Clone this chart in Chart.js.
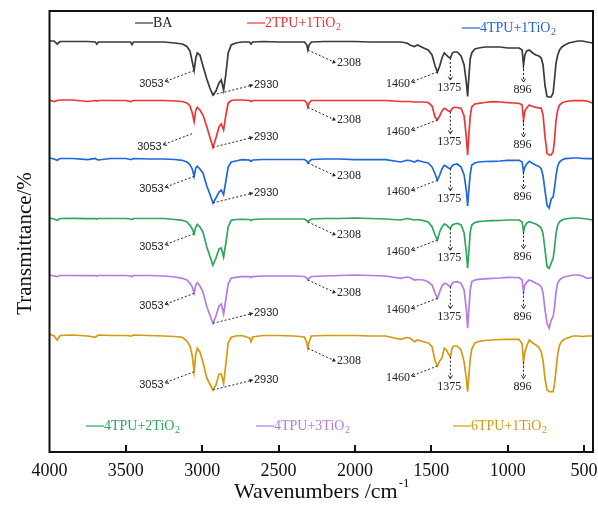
<!DOCTYPE html>
<html>
<head>
<meta charset="utf-8">
<title>FTIR spectra</title>
<script src="https://cdn.jsdelivr.net/npm/chart.js@4.4.0/dist/chart.umd.min.js"></script>
<style>
  html, body { margin: 0; padding: 0; background: #fff; }
</style>
</head>
<body>
<canvas id="ftir" width="598" height="510"></canvas>
<script>
// shared wavenumber grid (cm-1), denser around the bands
const wavenumbers = [
  4000, 3970, 3950, 3930, 3850, 3750, 3700, 3690, 3680, 3600,
  3500, 3470, 3460, 3450, 3350, 3250, 3180, 3130, 3100, 3080,
  3065, 3053, 3042, 3032, 3015, 2995, 2970, 2950, 2930, 2910,
  2890, 2875, 2860, 2845, 2830, 2810, 2780, 2740, 2690, 2680,
  2670, 2600, 2500, 2400, 2330, 2315, 2308, 2300, 2285, 2200,
  2100, 2000, 1900, 1800, 1700, 1660, 1640, 1610, 1590, 1550,
  1520, 1495, 1475, 1460, 1445, 1430, 1415, 1400, 1388, 1375,
  1362, 1350, 1330, 1305, 1285, 1270, 1262, 1254, 1245, 1235,
  1215, 1190, 1150, 1100, 1050, 1000, 960, 925, 905, 896,
  887, 875, 858, 835, 815, 795, 780, 768, 755, 742,
  728, 715, 702, 693, 683, 672, 660, 645, 625, 600,
  570, 540, 510, 480, 441
];

// transmittance drop below each sample's own baseline
const dropBA = [
  0, 0, 3, 0.5, 0.5, 0.5, 1, 3, 1, 1,
  1, 1, 3.5, 1, 1, 1, 2, 3, 5.5, 10,
  21, 29.5, 17, 12, 14, 25, 38, 47, 54, 50,
  42, 39, 49, 33, 12, 4, 2, 1, 1, 3,
  1, 0.5, 1, 1, 1, 4, 9, 4, 1, 0.5,
  0.5, 0.5, 1, 1, 1, 2, 4, 5.5, 4, 7,
  9, 14, 25, 31, 25, 17, 12, 14, 16, 17,
  12, 11, 11, 15, 24, 42, 55.5, 36, 18, 12,
  8, 7, 6, 6, 6, 7, 7, 7, 9, 24,
  14, 10, 9, 12, 14, 15, 17, 24, 45, 55.5,
  56, 56, 52, 38, 22, 14, 9, 6, 4, 2,
  1, 0, 0, 1, 2
];
const drop2TPU1Ti = [
  0, 1.5, 0.5, 0, 0, 1.5, 0.5, 1, 0.5, 0.5,
  0.5, 1.5, 1, 0.5, 0.5, 0.5, 1, 1.5, 3, 6,
  13, 21.7, 10, 7.3, 10, 15, 26.5, 37, 47.3, 38,
  27, 24, 30, 15, 3, 0.5, 0, 0, 0.5, 1.5,
  0.5, 0.5, 0.5, 0.5, 0.5, 3, 7.3, 3, 0.5, 0.5,
  0.5, 0.5, 0.5, 0.5, 1.5, 1.5, 1.5, 2, 2, 2,
  2.5, 6, 17, 20, 16, 11, 8.3, 9.5, 11, 11.7,
  8.3, 7.3, 7.5, 8.3, 16, 38, 55, 35, 16, 7,
  4, 3.3, 2.5, 1.7, 2, 2.7, 3, 3.3, 5, 20,
  11, 8, 5, 6.5, 7.3, 7.8, 8.3, 15, 37, 53.3,
  55, 55, 51.7, 40, 20, 10, 5, 3, 1.7, 1,
  0.7, 0.7, 0.7, 1, 3.3
];
const drop4TPU1Ti = [
  0, 1, 2.3, 0.5, 0.5, 1.7, 0.5, 1.5, 2, 0.5,
  0.5, 1.5, 1.5, 0.5, 1, 1, 1.5, 2.3, 4, 6.7,
  11, 18.3, 10, 8.3, 11, 15, 28, 36, 45, 40,
  34, 32, 36.7, 23, 9, 4, 3, 1.7, 2, 3.3,
  2, 1.5, 1.5, 1.5, 1.5, 3, 5, 3.5, 1.5, 1,
  1, 1.7, 1.5, 1.7, 4, 2.3, 2.5, 4, 2.5, 4,
  5, 9, 16, 22.3, 17, 11, 7.3, 8.5, 10, 10.7,
  7.5, 6.5, 6, 9, 17, 33, 48, 32, 16, 7,
  5, 4, 3.5, 3.3, 3, 2.3, 2.3, 2.3, 4, 14,
  9, 6, 3.3, 5.5, 7.3, 8.5, 10.7, 18, 33, 47.3,
  50, 41, 39, 30, 17.3, 8, 4, 2, 0.7, 0.3,
  0, 0, 0.5, 0.7, 0.7
];
const drop4TPU2Ti = [
  0, 1, 2.3, 0.5, 0.3, 0.7, 0.5, 1, 0.5, 0.5,
  0.5, 1, 1.5, 0.5, 0.5, 0.5, 1.5, 2.3, 4, 7.3,
  11, 15.7, 9, 6.3, 9, 14, 29, 38, 47.3, 40,
  31, 30, 39, 25, 9, 2.3, 1.5, 1.3, 1.5, 2.5,
  1.5, 1, 1, 1, 1, 2.5, 4, 2.5, 1, 0.5,
  0.5, 0, 0.5, 1, 2, 0.5, 1, 2, 1.5, 2.7,
  4, 8.7, 17, 22, 14, 9, 6, 7, 9, 10.3,
  7, 6, 5.3, 7, 15, 35, 50.3, 34, 14, 7,
  4.5, 3.7, 3, 2.7, 2.5, 2, 2, 2, 4, 13.7,
  8, 5, 3.7, 5, 6, 8, 10.3, 16, 32, 48.7,
  50.3, 45.3, 40.3, 30, 15.3, 7, 3.7, 2, 1, 0.5,
  0, 0, 0.5, 1, 2
];
const drop4TPU3Ti = [
  0, 1, 1.7, 0.5, 0.5, 0.7, 0.5, 1, 0.5, 0.5,
  0.5, 1, 1.7, 0.5, 0.5, 1, 2, 3.3, 5, 8.3,
  12, 18.3, 10, 7.7, 11, 16.7, 31.7, 40, 48.3, 41,
  31, 29, 39, 24, 9, 3, 2.3, 1.7, 1.7, 2.5,
  1.7, 1, 1, 1, 1.5, 3, 5, 3, 1.5, 1,
  0.5, 0, 0.5, 1, 3.3, 2, 2.5, 5, 4.5, 5,
  7, 10, 18, 23.3, 17, 11, 8.3, 8.7, 10.5, 11.7,
  8, 7, 6.7, 8.3, 15, 35, 53.3, 35, 15, 6.7,
  5, 4.3, 3.8, 3.3, 3, 2.3, 2.5, 2.5, 5, 16.7,
  10, 7, 5, 6.5, 8.3, 9.5, 11.7, 18, 35, 48.3,
  53.3, 45, 41.7, 32, 16.7, 8, 5, 3, 1.7, 1,
  0, 0, 1, 3.3, 2.5
];
const drop6TPU1Ti = [
  0, 2, 6, 1.5, 1, 2, 3.3, 2, 1, 1.5,
  1.5, 2, 2, 1, 1.5, 2, 2.5, 3.3, 7, 12,
  22, 37.7, 20, 14.3, 18, 28, 44, 50, 56, 51,
  40, 40, 49.3, 30, 9, 3.3, 2, 1.5, 4, 7.7,
  3, 1.5, 1.5, 2, 3, 9, 14.3, 8, 2, 1.5,
  1.5, 1.5, 2, 2, 5.3, 3.5, 4, 7.7, 6, 7.7,
  9, 12.7, 27, 32, 27, 24, 14.3, 16, 20, 22.7,
  13.3, 12, 12, 16, 28, 45, 57.7, 42, 25, 15,
  9, 7.5, 6.5, 6, 5.5, 5.3, 5.3, 5.3, 10, 27.7,
  18, 12, 6, 9, 11, 13.5, 17.7, 27, 45, 56,
  57.7, 57.7, 57.7, 50, 36, 20, 11, 7, 5, 3.5,
  2, 2, 2.5, 2, 2
];

const sampleNames = ['BA', '2TPU+1TiO2', '4TPU+1TiO2', '4TPU+2TiO2', '4TPU+3TiO2', '6TPU+1TiO2'];
const sampleDrops = [dropBA, drop2TPU1Ti, drop4TPU1Ti, drop4TPU2Ti, drop4TPU3Ti, drop6TPU1Ti];
// vertical stacking offsets of the spectra
const stackShift = [0, -59, -117, -177, -234, -293];
const sampleColors = ['#3a3a3a', '#ee3535', '#2166db', '#2fa65d', '#b27ce4', '#d39a12'];

// bands called out on each spectrum
const allBands = [3053, 2930, 2308, 1460, 1375, 896];
const labeledBands = [allBands, allBands, allBands, [3053, 2308, 1460, 1375, 896], allBands, allBands];

const xTicks = [4000, 3500, 3000, 2500, 2000, 1500, 1000, 500];

const SERIF = '"Liberation Serif", "Times New Roman", serif';
const SANS = '"Liberation Sans", Arial, sans-serif';

// how each band callout is drawn, offsets in px from the band point
const callouts = {
  3053: { dir: 'left', end: [-29, 11], font: '11px ' + SANS, head: 'open' },
  2930: { dir: 'right', end: [40, -10], font: '11px ' + SANS, head: 'solid' },
  2308: { dir: 'right', end: [28, 13], font: '12px ' + SERIF, head: 'solid' },
  1460: { dir: 'left', end: [-26, 10], font: '12px ' + SERIF, head: 'open' },
  1375: { dir: 'down', end: [0, 22], font: '12px ' + SERIF, head: 'open' },
  896: { dir: 'down', end: [0, 17], font: '12px ' + SERIF, head: 'open' }
};
const calloutNudge = { 1: { 3053: [-2, 12] } };

// legend entries: [x, y] of the short line start
const legendSpots = [[135, 23], [247, 23], [462, 28], [86, 426], [256, 426], [453, 426]];

function dashedArrow(ctx, x0, y0, x1, y1, head) {
  ctx.save();
  ctx.strokeStyle = '#222';
  ctx.fillStyle = '#222';
  ctx.lineWidth = 1;
  ctx.setLineDash([2, 2]);
  ctx.beginPath();
  ctx.moveTo(x0, y0);
  ctx.lineTo(x1, y1);
  ctx.stroke();
  ctx.setLineDash([]);
  const a = Math.atan2(y1 - y0, x1 - x0);
  ctx.beginPath();
  ctx.moveTo(x1 - 4 * Math.cos(a - 0.55), y1 - 4 * Math.sin(a - 0.55));
  ctx.lineTo(x1, y1);
  ctx.lineTo(x1 - 4 * Math.cos(a + 0.55), y1 - 4 * Math.sin(a + 0.55));
  if (head === 'solid') {
    ctx.closePath();
    ctx.fill();
  } else {
    ctx.stroke();
  }
  ctx.restore();
}

// "TiO2" gets its 2 as a subscript
function drawSampleName(ctx, name, x, y, color) {
  const m = name.match(/^(.*TiO)2$/);
  const main = m ? m[1] : name;
  ctx.fillStyle = color;
  ctx.textAlign = 'left';
  ctx.textBaseline = 'middle';
  ctx.font = '14px ' + SERIF;
  ctx.fillText(main, x, y);
  if (m) {
    const w = ctx.measureText(main).width;
    ctx.font = '10px ' + SERIF;
    ctx.fillText('2', x + w + 0.5, y + 4.5);
  }
}

const decor = {
  id: 'decor',
  afterDatasetsDraw(chart) {
    const { ctx, chartArea: a, scales: { x, y } } = chart;
    ctx.save();

    // frame and inward ticks
    ctx.strokeStyle = '#111';
    ctx.lineWidth = 2;
    ctx.strokeRect(a.left, a.top, a.right - a.left, a.bottom - a.top);
    xTicks.forEach(v => {
      if (v === 4000) return;
      const px = Math.round(x.getPixelForValue(v));
      ctx.beginPath();
      ctx.moveTo(px, a.bottom);
      ctx.lineTo(px, a.bottom - 7);
      ctx.stroke();
    });

    // band callouts
    chart.data.datasets.forEach((ds, i) => {
      labeledBands[i].forEach(wn => {
        const c = callouts[wn];
        const pt = ds.data[wavenumbers.indexOf(wn)];
        const n = (calloutNudge[i] && calloutNudge[i][wn]) || [0, 0];
        const px = x.getPixelForValue(pt.x) + n[0];
        const py = y.getPixelForValue(pt.y) + n[1];
        const ex = px + c.end[0];
        const ey = py + c.end[1];
        dashedArrow(ctx, px, py, ex, ey, c.head);
        ctx.fillStyle = '#222';
        ctx.font = c.font;
        ctx.textBaseline = 'middle';
        if (c.dir === 'left') {
          ctx.textAlign = 'right';
          ctx.fillText(String(wn), ex - 1.5, ey + 2);
        } else if (c.dir === 'right') {
          ctx.textAlign = 'left';
          ctx.fillText(String(wn), ex + 1, ey);
        } else {
          ctx.textAlign = 'center';
          ctx.fillText(String(wn), ex - 1, ey + 8);
        }
      });
    });

    // legend
    sampleNames.forEach((name, i) => {
      const [lx, ly] = legendSpots[i];
      ctx.strokeStyle = sampleColors[i];
      ctx.lineWidth = 1.2;
      ctx.beginPath();
      ctx.moveTo(lx, ly);
      ctx.lineTo(lx + 18, ly);
      ctx.stroke();
      drawSampleName(ctx, name, lx + 18, ly, i === 0 ? '#222' : sampleColors[i]);
    });

    // axis titles
    ctx.fillStyle = '#111';
    ctx.textBaseline = 'middle';
    ctx.font = '22px ' + SERIF;
    const main = 'Wavenumbers /cm';
    const wMain = ctx.measureText(main).width;
    ctx.font = '13px ' + SERIF;
    const wSup = ctx.measureText('-1').width;
    const tx = (a.left + a.right) / 2 - (wMain + wSup) / 2;
    ctx.textAlign = 'left';
    ctx.font = '22px ' + SERIF;
    ctx.fillText(main, tx, 492);
    ctx.font = '13px ' + SERIF;
    ctx.fillText('-1', tx + wMain + 1, 484);

    ctx.save();
    ctx.translate(25, (a.top + a.bottom) / 2 + 12);
    ctx.rotate(-Math.PI / 2);
    ctx.textAlign = 'center';
    ctx.font = '21px ' + SERIF;
    ctx.fillText('Transmittance/%', 0, 0);
    ctx.restore();

    ctx.restore();
  }
};

Chart.defaults.font.family = SERIF;

const datasets = sampleNames.map((name, i) => ({
  label: name,
  data: wavenumbers.map((wn, k) => ({ x: wn, y: 100 - sampleDrops[i][k] + stackShift[i] })),
  borderColor: sampleColors[i],
  borderWidth: 1.7,
  pointRadius: 0,
  tension: 0,
  fill: false
}));

new Chart(document.getElementById('ftir'), {
  type: 'line',
  data: { datasets },
  options: {
    responsive: false,
    animation: false,
    events: [],
    layout: { padding: { left: 0, right: 5, top: 11, bottom: 0 } },
    plugins: { legend: { display: false }, tooltip: { enabled: false } },
    scales: {
      x: {
        type: 'linear',
        reverse: true,
        min: 441,
        max: 4000,
        afterBuildTicks: s => { s.ticks = xTicks.map(v => ({ value: v })); },
        afterFit: s => {
          s.height = 58;
          // end labels may hang past the frame
          s.paddingLeft = 0;
          s.paddingRight = 0;
        },
        grid: { display: false, drawTicks: false },
        border: { display: false },
        ticks: {
          autoSkip: false,
          maxRotation: 0,
          padding: 8,
          color: '#111',
          font: { family: SERIF, size: 18 },
          callback: v => String(v)
        }
      },
      y: {
        min: -311,
        max: 130,
        afterFit: s => { s.width = 49.5; },
        grid: { display: false, drawTicks: false },
        border: { display: false },
        ticks: { display: false }
      }
    }
  },
  plugins: [decor]
});
</script>
</body>
</html>
